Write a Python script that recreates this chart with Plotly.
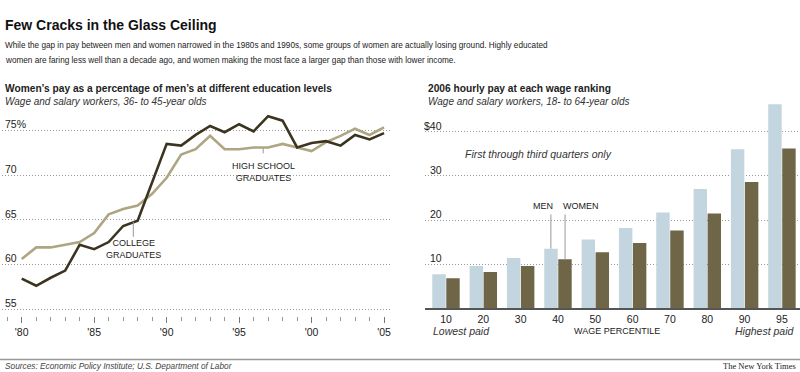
import plotly.graph_objects as go

# ---- data ----
years = list(range(1980, 2006))
college = [58.4, 57.6, 58.5, 59.3, 62.2, 61.7, 62.5, 64.3, 64.9, 69.2, 73.5, 73.3, 74.5,
           75.5, 74.8, 75.7, 74.9, 76.6, 76.1, 73.1, 73.6, 73.8, 73.3, 74.5, 74.0, 74.7]
highschool = [60.6, 61.9, 61.9, 62.2, 62.5, 63.5, 65.6, 66.2, 66.6, 67.9, 69.7, 72.3, 72.9,
              74.4, 72.9, 72.9, 73.1, 73.1, 73.5, 73.1, 72.7, 73.7, 74.4, 75.2, 74.5, 75.35]
year_ticks = [1980, 1985, 1990, 1995, 2000, 2005]
year_labels = ["'80", "'85", "'90", "'95", "'00", "'05"]
pct_ticks = [55, 60, 65, 70, 75]
pct_labels = ["55", "60", "65", "70", "75%"]

percentiles = ["10", "20", "30", "40", "50", "60", "70", "80", "90", "95"]
men = [7.7, 9.6, 11.4, 13.5, 15.6, 18.2, 21.7, 27.0, 36.0, 46.2]
women = [6.8, 8.2, 9.6, 11.1, 12.7, 14.8, 17.6, 21.5, 28.6, 36.2]
wage_ticks = [10, 20, 30, 40]
wage_labels = ["10", "20", "30", "$40"]

# ---- style ----
FONT = "Liberation Sans, Arial, Helvetica, sans-serif"
TXT = "#222222"
DARK = "#3b3520"
LIGHT = "#aea583"
MENC = "#c3d5df"
WOMC = "#6f6647"
GRID = "#9a9a9a"
W, H = 800, 372


def py(p):
    return 1 - p / H


def px(p):
    return p / W


fig = go.Figure()

fig.add_trace(go.Scatter(x=years, y=highschool, mode="lines", line=dict(color=LIGHT, width=2.6),
                         xaxis="x", yaxis="y", showlegend=False, name="High school graduates"))
fig.add_trace(go.Scatter(x=years, y=college, mode="lines", line=dict(color=DARK, width=2.6),
                         xaxis="x", yaxis="y", showlegend=False, name="College graduates"))

idx = list(range(len(percentiles)))
fig.add_trace(go.Bar(x=idx, y=men, marker=dict(color=MENC, line=dict(width=0)),
                     xaxis="x2", yaxis="y2", showlegend=False, name="Men"))
fig.add_trace(go.Bar(x=idx, y=women, marker=dict(color=WOMC, line=dict(width=0)),
                     xaxis="x2", yaxis="y2", showlegend=False, name="Women"))

tickfont = dict(family=FONT, size=10.5, color=TXT)

fig.update_layout(
    width=W, height=H, margin=dict(l=0, r=0, t=0, b=0),
    paper_bgcolor="white", plot_bgcolor="white",
    barmode="group", bargap=0.25, bargroupgap=0.04,
    xaxis=dict(domain=[px(2), px(390)], range=[1978.64, 2005.41],
               tickvals=year_ticks, ticktext=year_labels, ticks="outside", ticklen=6,
               tickcolor="#777", tickwidth=1, showgrid=False, zeroline=False, showline=False,
               tickfont=tickfont,
               minor=dict(dtick=1, tick0=1980, ticks="outside", ticklen=4, tickcolor="#999",
                          showgrid=False)),
    yaxis=dict(domain=[py(316), py(112)], range=[54.216, 77.07], anchor="x",
               tickvals=pct_ticks, showticklabels=False,
               showgrid=True, gridcolor=GRID, griddash="1px,2px", gridwidth=1,
               zeroline=False, showline=False, ticks=""),
    xaxis2=dict(domain=[px(425), 1.0], range=[-0.5625, 9.4836], anchor="y2",
                tickvals=idx, ticktext=percentiles, ticks="", showgrid=False, zeroline=False,
                showline=True, linecolor="#555", linewidth=1.5, tickfont=tickfont),
    yaxis2=dict(domain=[py(308.3), py(100)], range=[0, 47.18], anchor="x2",
                tickvals=wage_ticks, showticklabels=False,
                showgrid=True, gridcolor=GRID, griddash="1px,2px", gridwidth=1,
                zeroline=False, showline=False, ticks=""),
)

ann = []


def text(x, y, t, size=10, family=FONT, color=TXT, xanchor="left", **kw):
    ann.append(dict(x=x, y=y, xref="paper", yref="paper", text=t, showarrow=False,
                    xanchor=xanchor, yanchor="middle", align="center" if xanchor == "center" else "left",
                    font=dict(family=family, size=size, color=color), **kw))


# y-axis tick labels, placed on the axes' own scales, just above each gridline
for v, lab in zip(pct_ticks, pct_labels):
    ann.append(dict(x=px(3), y=v, xref="paper", yref="y", text=lab, showarrow=False,
                    xanchor="left", yanchor="bottom", yshift=-2,
                    font=dict(family=FONT, size=10.5, color=TXT)))
for v, lab in zip(wage_ticks, wage_labels):
    ann.append(dict(x=px(444), y=v, xref="paper", yref="y2", text=lab, showarrow=False,
                    xanchor="right", yanchor="bottom", yshift=-2,
                    font=dict(family=FONT, size=10.5, color=TXT)))

text(px(3), py(25), "<b>Few Cracks in the Glass Ceiling</b>", size=14, color="#111")
text(px(3), py(45.5), "While the gap in pay between men and women narrowed in the 1980s and 1990s, some groups of women are actually losing ground. Highly educated",
     size=8.2)
text(px(3), py(61), "women are faring less well than a decade ago, and women making the most face a larger gap than those with lower income.",
     size=8.2)
text(px(3), py(88), "<b>Women\u2019s pay as a percentage of men\u2019s at different education levels</b>", size=10.2)
text(px(3), py(101), "<i>Wage and salary workers, 36- to 45-year olds</i>", size=10, color="#333")
text(px(426), py(88), "<b>2006 hourly pay at each wage ranking</b>", size=10.2)
text(px(426), py(101), "<i>Wage and salary workers, 18- to 64-year olds</i>", size=10, color="#333")

text(px(463), py(154), "<i>First through third quarters only</i>", size=10.5, color="#333")
text(px(543), py(206.5), "MEN", size=9, xanchor="center")
text(px(581), py(206.5), "WOMEN", size=9, xanchor="center")
text(px(431), py(331), "<i>Lowest paid</i>", size=10.5, color="#333")
text(px(616.5), py(331), "WAGE PERCENTILE", size=9, xanchor="center")
text(px(797), py(331), "<i>Highest paid</i>", size=10.5, color="#333", xanchor="right")

text(px(263.3), py(172.5), "HIGH SCHOOL<br>GRADUATES", size=9, xanchor="center")
text(px(133), py(249), "COLLEGE<br>GRADUATES", size=9, xanchor="center")

text(px(3), py(365.5), "<i>Sources: Economic Policy Institute; U.S. Department of Labor</i>", size=8.3,
     color="#444")
text(px(798), py(365.5), "The New York Times", size=8.5, family="Liberation Serif, Times New Roman, serif",
     color="#222", xanchor="right")


# leader lines (data coordinates)
def leader(xref, yref, x, y_end, y_start):
    ann.append(dict(x=x, y=y_end, xref=xref, yref=yref, ax=x, ay=y_start, axref=xref, ayref=yref,
                    text="", showarrow=True, arrowhead=0, arrowwidth=1, arrowcolor="#999",
                    standoff=0, startstandoff=0))


leader("x2", "y2", 3 - 0.19, men[3], 21.6)
leader("x2", "y2", 3 + 0.19, women[3], 21.6)
leader("x", "y", 1996.66, 73.1, 72.26)
leader("x", "y", 1987.7, 64.78, 62.92)

fig.update_layout(annotations=ann,
                  shapes=[dict(type="line", xref="paper", yref="paper", x0=0, x1=1,
                               y0=py(359.5), y1=py(359.5), line=dict(color="#999", width=1.5))])

fig.write_html("out.html", config={"displayModeBar": False},
               post_script="document.body.style.margin='0';document.body.style.padding='0';")
